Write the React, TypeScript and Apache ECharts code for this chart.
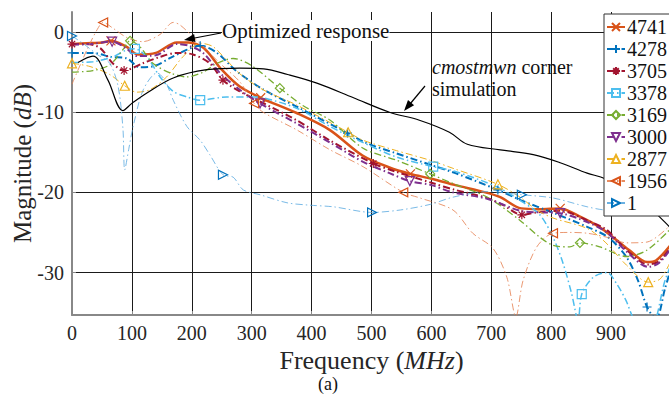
import React, { useEffect, useRef } from 'react';
import * as echarts from 'echarts';

const FONT = 'Liberation Serif';

// X axis ticks (MHz) and Y axis ticks (dB)
const xTicks = [0, 100, 200, 300, 400, 500, 600, 700, 800, 900];
const yTicks = [-30, -20, -10, 0];

const legendNames = ['4741', '4278', '3705', '3378', '3169', '3000', '2877', '1956', '1'];

// ---- measured responses: frequency (MHz) / magnitude (dB) / marker frequencies ----
const f4741 = [0, 25, 50, 65, 90, 110, 140, 175, 195, 220, 250, 280, 315, 375, 430, 485, 530, 565, 600, 640, 690, 715, 750, 780, 815, 850, 880, 900, 930, 960, 975, 1000];
const v4741 = [-1.5, -1.4, -1.3, -1.1, -1.8, -2.8, -2.6, -1.3, -1.3, -2.0, -4.7, -6.8, -8.2, -10.1, -12.2, -15.4, -16.9, -17.7, -18.3, -19.1, -20.0, -20.6, -22.0, -22.1, -22.0, -23.1, -24.3, -25.4, -27.2, -28.7, -28.5, -26.5];
const m4741 = [65, 315, 565, 815];

const f4278 = [0, 35, 65, 92, 113, 135, 165, 192, 214, 242, 275, 320, 375, 460, 490, 540, 600, 640, 711, 750, 805, 860, 895, 925, 945, 960, 975, 990, 1000];
const v4278 = [-2.6, -2.6, -3.1, -3.3, -4.4, -4.3, -3.2, -2.2, -1.7, -2.6, -4.9, -7.2, -9.3, -12.6, -13.8, -15.1, -16.6, -17.6, -19.7, -21.0, -22.6, -24.3, -25.6, -28.0, -31.0, -34.3, -35.8, -32.0, -29.5];
const m4278 = [0, 214, 460, 711, 960];

const f3705 = [0, 25, 47, 68, 87, 118, 147, 175, 202, 230, 252, 280, 320, 375, 430, 503, 540, 600, 640, 693, 720, 751, 776, 815, 860, 893, 926, 962, 980, 1000];
const v3705 = [-1.5, -1.5, -2.0, -3.9, -4.8, -3.9, -3.1, -2.6, -2.8, -3.9, -6.0, -7.4, -8.9, -11.0, -13.5, -16.4, -17.4, -18.8, -19.7, -20.7, -21.6, -22.8, -22.5, -22.3, -23.5, -24.7, -27.2, -29.0, -28.6, -26.8];
const m3705 = [0, 87, 252, 503, 751];

const f3378 = [0, 35, 68, 92, 105, 125, 147, 169, 192, 214, 258, 300, 319, 375, 431, 486, 542, 603, 636, 709, 748, 781, 803, 820, 834, 845, 851, 870, 893, 910, 925, 940, 965, 990, 1000];
const v3378 = [-3.8, -3.7, -3.1, -2.2, -2.1, -3.1, -5.6, -7.4, -8.1, -8.5, -8.1, -8.1, -8.2, -9.5, -11.8, -13.8, -15.6, -16.8, -17.3, -19.3, -21.0, -22.8, -25.6, -28.9, -32.6, -36.0, -32.7, -30.6, -30.0, -31.5, -33.5, -36.0, -37.0, -31.0, -29.0];
const m3378 = [105, 214, 603, 851];

const f3169 = [0, 35, 63, 85, 97, 113, 135, 164, 192, 219, 242, 269, 300, 347, 386, 431, 486, 542, 598, 636, 693, 748, 781, 803, 831, 848, 881, 926, 960, 1000];
const v3169 = [-5.0, -4.8, -4.1, -2.2, -1.1, -1.8, -3.9, -5.1, -5.6, -5.0, -3.9, -3.3, -4.2, -7.0, -9.2, -11.0, -14.5, -16.0, -17.7, -18.9, -20.6, -23.5, -25.6, -26.6, -26.8, -26.3, -26.8, -28.0, -27.2, -24.5];
const m3169 = [97, 347, 598, 848];

const f3000 = [0, 30, 67, 90, 108, 140, 175, 195, 219, 247, 280, 314, 375, 431, 486, 530, 564, 600, 636, 693, 748, 780, 815, 860, 893, 926, 962, 980, 1000];
const v3000 = [-1.6, -1.5, -1.2, -2.0, -3.0, -2.9, -1.5, -1.7, -2.6, -5.1, -7.2, -8.9, -11.4, -13.8, -16.2, -17.6, -18.6, -19.1, -20.0, -20.8, -22.3, -22.5, -22.6, -23.7, -25.0, -27.4, -29.3, -28.8, -27.0];
const m3000 = [67, 314, 564, 815];

const f2877 = [0, 30, 63, 88, 108, 130, 158, 185, 214, 235, 258, 280, 319, 375, 461, 486, 542, 598, 636, 711, 748, 776, 803, 860, 890, 926, 962, 982, 1000];
const v2877 = [-3.9, -4.3, -5.3, -6.7, -7.5, -7.2, -5.6, -3.1, -1.4, -1.8, -3.5, -5.2, -7.2, -9.1, -12.5, -13.5, -14.8, -16.0, -17.0, -19.0, -20.6, -22.2, -23.2, -24.5, -26.2, -29.1, -31.2, -30.8, -28.5];
const m2877 = [0, 88, 461, 711, 962];

const f1956 = [0, 25, 42, 52, 68, 92, 118, 147, 169, 180, 202, 219, 247, 280, 304, 319, 375, 431, 486, 553, 581, 636, 669, 703, 726, 741, 753, 776, 803, 831, 860, 893, 926, 960, 1000];
const v1956 = [-6.5, -2.2, 0.3, 1.2, 0.5, -0.7, -1.2, -0.3, 1.2, 0.9, -0.6, -1.8, -3.9, -6.2, -8.9, -10.0, -12.2, -14.7, -16.8, -20.0, -20.7, -22.2, -25.1, -27.0, -30.6, -35.5, -31.0, -26.8, -25.1, -25.0, -25.1, -25.6, -26.3, -26.2, -24.0];
const m1956 = [52, 304, 553, 803];

const f1 = [0, 18, 42, 63, 77, 85, 88, 95, 102, 119, 142, 155, 169, 192, 214, 230, 252, 269, 286, 314, 359, 397, 436, 501, 548, 598, 636, 693, 751, 803, 860, 893, 950, 1000];
const v1 = [-0.5, -1.4, -2.8, -3.9, -6.8, -12.0, -17.2, -14.5, -11.8, -7.2, -5.1, -6.0, -8.5, -11.8, -13.5, -15.3, -17.8, -18.1, -19.7, -20.3, -21.3, -21.6, -21.8, -22.5, -22.2, -21.5, -20.6, -19.9, -20.3, -20.7, -21.8, -22.2, -22.0, -21.8];
const m1 = [0, 252, 501, 751];

// cmostmwn corner simulation (black)
const fSim = [10, 35, 60, 85, 100, 125, 170, 225, 280, 320, 360, 410, 470, 530, 580, 630, 660, 715, 770, 815, 860, 890, 950, 1000];
const vSim = [-3.8, -3.0, -6.0, -9.8, -8.9, -7.6, -5.7, -4.7, -4.5, -4.6, -5.3, -6.4, -8.2, -10.0, -11.0, -12.5, -14.0, -14.7, -15.3, -16.3, -17.6, -18.3, -21.0, -24.5];

const SYM_X = 'path://M0,0L10,10M10,0L0,10';
const SYM_PLUS = 'path://M5,0L5,10M0,5L10,5';
const SYM_STAR = 'path://M5,0L5,10M0,5L10,5M1.5,1.5L8.5,8.5M8.5,1.5L1.5,8.5';

const DASHDOT = [7, 3, 1.5, 3];

type Cfg = {
  name: string; fs: number[]; vs: number[]; ms: number[];
  color: string; line: string; width: number; dash: any; symbol: string; rotate: number; opacity: number;
};

const cfgs: Cfg[] = [
  { name: '4741', fs: f4741, vs: v4741, ms: m4741, color: '#D95319', line: '#D95319', width: 2.5, dash: 'solid', symbol: SYM_X, rotate: 0, opacity: 1 },
  { name: '4278', fs: f4278, vs: v4278, ms: m4278, color: '#0072BD', line: '#0072BD', width: 2, dash: DASHDOT, symbol: SYM_PLUS, rotate: 0, opacity: 1 },
  { name: '3705', fs: f3705, vs: v3705, ms: m3705, color: '#A2142F', line: '#A2142F', width: 2, dash: DASHDOT, symbol: SYM_STAR, rotate: 0, opacity: 1 },
  { name: '3378', fs: f3378, vs: v3378, ms: m3378, color: '#4DBEEE', line: '#4DBEEE', width: 1.5, dash: DASHDOT, symbol: 'rect', rotate: 0, opacity: 1 },
  { name: '3169', fs: f3169, vs: v3169, ms: m3169, color: '#77AC30', line: '#77AC30', width: 1.3, dash: DASHDOT, symbol: 'diamond', rotate: 0, opacity: 1 },
  { name: '3000', fs: f3000, vs: v3000, ms: m3000, color: '#7E2F8E', line: '#7E2F8E', width: 2, dash: DASHDOT, symbol: 'triangle', rotate: 180, opacity: 1 },
  { name: '2877', fs: f2877, vs: v2877, ms: m2877, color: '#EDB120', line: '#EDB120', width: 1, dash: DASHDOT, symbol: 'triangle', rotate: 0, opacity: 1 },
  { name: '1956', fs: f1956, vs: v1956, ms: m1956, color: '#D95319', line: '#E5804F', width: 0.9, dash: DASHDOT, symbol: 'triangle', rotate: 90, opacity: 0.9 },
  { name: '1', fs: f1, vs: v1, ms: m1, color: '#0072BD', line: '#5AA9E0', width: 0.9, dash: DASHDOT, symbol: 'triangle', rotate: -90, opacity: 0.9 },
];

function buildOption() {
  const series: any[] = cfgs.map((c) => ({
    name: c.name,
    type: 'line',
    smooth: 0.3,
    symbol: c.symbol,
    symbolSize: 9,
    symbolRotate: c.rotate,
    symbolKeepAspect: true,
    itemStyle: { color: 'rgba(255,255,255,0)', borderColor: c.color, borderWidth: 1.2 },
    lineStyle: { color: c.line, width: c.width, type: c.dash, opacity: c.opacity },
    emphasis: { disabled: true },
    data: c.fs.map((f, i) =>
      c.ms.indexOf(f) >= 0 ? { value: [f, c.vs[i]] } : { value: [f, c.vs[i]], symbol: 'none' }
    ),
    z: 3,
  }));
  series.push({
    name: 'sim',
    type: 'line',
    smooth: 0.35,
    symbol: 'none',
    lineStyle: { color: '#000', width: 1.2 },
    emphasis: { disabled: true },
    data: fSim.map((f, i) => [f, vSim[i]]),
    z: 4,
  });

  const titleStyle = (size: number) => ({
    fontFamily: FONT,
    fontSize: size,
    color: '#262626',
    rich: { i: { fontFamily: FONT, fontSize: size, fontStyle: 'italic', color: '#262626' } },
  });

  return {
    animation: false,
    backgroundColor: '#fff',
    grid: { left: 72, top: 12, width: 599, height: 303, containLabel: false, outerBoundsMode: 'none' },
    legend: {
      data: legendNames,
      orient: 'vertical',
      left: 604,
      top: 14,
      backgroundColor: '#fff',
      borderColor: '#333',
      borderWidth: 1,
      padding: [3, 3, 3, 2],
      itemGap: 2,
      itemWidth: 18,
      itemHeight: 10,
      selectedMode: false,
      textStyle: { fontFamily: FONT, fontSize: 20, color: '#111', padding: [0, 0, 0, -3] },
      z: 10,
    },
    xAxis: {
      type: 'value',
      min: 0,
      max: 1000,
      interval: 100,
      axisLine: { show: true, onZero: false, lineStyle: { color: '#888', width: 2 } },
      axisTick: { show: true, inside: true, length: 4, lineStyle: { color: '#888' } },
      axisLabel: {
        fontFamily: FONT, fontSize: 20, color: '#262626', margin: 8,
        formatter: (v: number) => (xTicks.indexOf(v) >= 0 ? String(v) : ''),
      },
      splitLine: { show: true, lineStyle: { color: '#1a1a1a', width: 1 } },
      name: 'Frequency ({i|MHz})',
      nameLocation: 'middle',
      nameGap: 29,
      nameTextStyle: titleStyle(26),
    },
    yAxis: {
      type: 'value',
      min: -35.3,
      max: 2.5,
      axisLine: { show: true, onZero: false, lineStyle: { color: '#888', width: 2 } },
      axisTick: { show: true, inside: true, length: 4, customValues: yTicks, lineStyle: { color: '#888' } },
      axisLabel: { customValues: yTicks, fontFamily: FONT, fontSize: 20, color: '#262626', margin: 8 },
      splitLine: { show: true, lineStyle: { color: '#1a1a1a', width: 1 } },
      name: 'Magnitude ({i|dB})',
      nameLocation: 'middle',
      nameRotate: 90,
      nameGap: 37,
      nameMoveOverlap: false,
      nameTextStyle: titleStyle(25),
    },
    graphic: [
      {
        type: 'text', left: 222, top: 20, z: 20,
        style: { text: 'Optimized response', fontFamily: FONT, fontSize: 21, fill: '#111', backgroundColor: '#fff' },
      },
      { type: 'line', z: 20, shape: { x1: 221, y1: 33, x2: 192, y2: 38.5 }, style: { stroke: '#000', lineWidth: 1.2 } },
      { type: 'polygon', z: 20, shape: { points: [[184, 40], [194.1, 34.0], [195.5, 41.9]] }, style: { fill: '#000' } },
      {
        type: 'text', left: 432, top: 56, z: 20,
        style: {
          text: '{i|cmostmwn} corner\nsimulation',
          fontFamily: FONT, fontSize: 20, fill: '#111', lineHeight: 22,
          rich: { i: { fontFamily: FONT, fontSize: 20, fontStyle: 'italic', fill: '#111' } },
        },
      },
      { type: 'line', z: 20, shape: { x1: 425, y1: 86, x2: 410, y2: 104 }, style: { stroke: '#000', lineWidth: 1.2 } },
      { type: 'polygon', z: 20, shape: { points: [[404, 111], [408, 100], [414.1, 105.2]] }, style: { fill: '#000' } },
      {
        type: 'text', left: 318, top: 375, z: 20,
        style: { text: '(a)', fontFamily: FONT, fontSize: 18, fill: '#111' },
      },
    ],
    series,
  };
}

export default function App() {
  const ref = useRef<HTMLDivElement>(null);
  useEffect(() => {
    if (!ref.current) return;
    const chart = echarts.init(ref.current, undefined, { renderer: 'svg' });
    chart.setOption(buildOption() as any);
    return () => chart.dispose();
  }, []);
  return (
    <div
      ref={ref}
      style={{ position: 'absolute', left: 0, top: 0, width: 669, height: 401, background: '#fff' }}
    />
  );
}
